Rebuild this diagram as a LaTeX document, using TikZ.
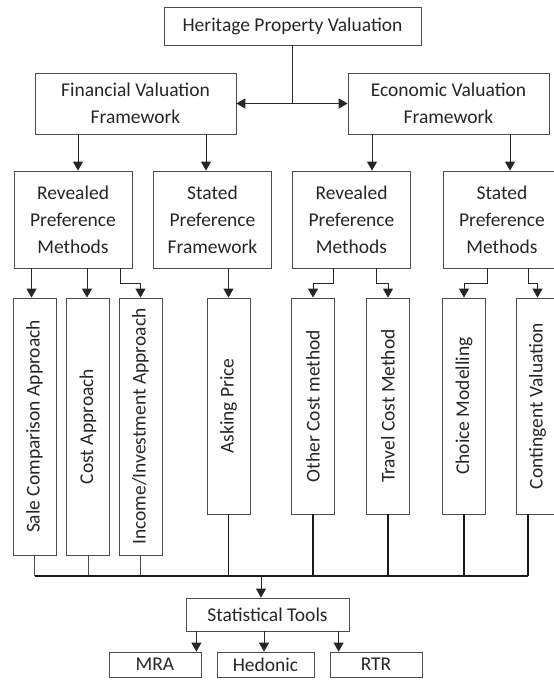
\documentclass[tikz,border=0pt]{standalone}
\usepackage{fontspec}
\setmainfont{Carlito}
\usetikzlibrary{arrows.meta}

\begin{document}
\begin{tikzpicture}[x=1pt,y=-1pt,
    box/.style={draw=black!70, line width=0.8pt, inner sep=0pt, align=center, text=black!85,
      font=\fontsize{19.5}{27}\selectfont},
    midbox/.style={box, minimum width=118pt, minimum height=97pt},
    tallbox/.style={box, minimum width=43pt, minimum height=257pt},
    shortbox/.style={box, minimum width=43pt, minimum height=216pt},
    link/.style={draw=black!85, line width=1pt, -{Triangle[width=10pt,length=9pt]}},
    feed/.style={draw=black!90, line width=1.5pt}]

  \clip (0,0) rectangle (554,686);

  % top level
  \node[box, minimum width=257pt, minimum height=38pt] (hpv) at (292.5,26) {Heritage Property Valuation};
  \node[box, minimum width=201pt, minimum height=61pt] (fin) at (135.5,103.5) {Financial Valuation\\Framework};
  \node[box, minimum width=201pt, minimum height=61pt] (eco) at (448.5,103.5) {Economic Valuation\\Framework};

  \draw[draw=black!85, line width=1.2pt] (hpv.south) -- (hpv.south |- fin.east);
  \draw[link, line width=1.2pt, {Triangle[width=10pt,length=9pt]}-{Triangle[width=10pt,length=9pt]}] (fin.east) -- (eco.west);

  % preference groups
  \node[midbox] (rpmA) at (73,219.5) {Revealed\\Preference\\Methods};
  \node[midbox] (spf) at (212.5,219.5) {Stated\\Preference\\Framework};
  \node[midbox] (rpmB) at (351.5,219.5) {Revealed\\Preference\\Methods};
  \node[midbox] (spmB) at (502,219.5) {Stated\\Preference\\Methods};

  \draw[link] ([xshift=5pt]rpmA.north |- fin.south) -- ([xshift=5pt]rpmA.north);
  \draw[link] ([xshift=-6.5pt]spf.north |- fin.south) -- ([xshift=-6.5pt]spf.north);
  \draw[link] ([xshift=20.5pt]rpmB.north |- eco.south) -- ([xshift=20.5pt]rpmB.north);
  \draw[link] ([xshift=8pt]spmB.north |- eco.south) -- ([xshift=8pt]spmB.north);

  % methods
  \node[tallbox] (sale) at (34.5,426.5) {\rotatebox{90}{Sale Comparison Approach}};
  \node[tallbox] (cost) at (88,426.5) {\rotatebox{90}{Cost Approach}};
  \node[tallbox] (income) at (140.5,426.5) {\rotatebox{90}{Income/Investment Approach}};
  \node[shortbox] (asking) at (228.5,406) {\rotatebox{90}{Asking Price}};
  \node[shortbox] (other) at (313,406) {\rotatebox{90}{Other Cost method}};
  \node[shortbox] (travel) at (388,406) {\rotatebox{90}{Travel Cost Method}};
  \node[shortbox] (choice) at (464,406) {\rotatebox{90}{Choice Modelling}};
  \node[shortbox] (cont) at (537.5,406) {\rotatebox{90}{Contingent Valuation}};

  \draw[link] ([xshift=-3pt]sale.north |- rpmA.south) -- ([xshift=-3pt]sale.north);
  \draw[link] ([xshift=-1pt]cost.north |- rpmA.south) -- ([xshift=-1pt]cost.north);
  \draw[link] ([xshift=-12pt]rpmA.south east) -- ++(0,15) -| (income.north);
  \draw[link] (asking.north |- spf.south) -- (asking.north);
  \draw[link] ([xshift=-18.5pt]rpmB.south) -- ++(0,15) -| (other.north);
  \draw[link] ([xshift=24.5pt]rpmB.south) -- ++(0,15) -| (travel.north);
  \draw[link] ([xshift=-15pt]spmB.south) -- ++(0,15) -| (choice.north);
  \draw[link] ([xshift=26pt]spmB.south) -- ++(0,15) -| (cont.north);

  % collecting bus
  \coordinate (busL) at (35,576);
  \coordinate (busR) at (528,576);
  \foreach \nm in {sale,cost,income}{
    \draw[draw=black!70, line width=0.8pt] (\nm.south) -- (\nm.south |- busL);
  }
  \foreach \nm in {asking,other,travel,choice}{
    \draw[feed] (\nm.south) -- (\nm.south |- busL);
  }
  \draw[feed] ([xshift=-9.5pt]cont.south) -- ([xshift=-9.5pt]cont.south |- busL);
  \draw[feed] (busL) -- (busR);

  % statistical tools
  \node[box, minimum width=163pt, minimum height=33pt] (stat) at (267.5,614.5) {Statistical Tools};
  \node[box, minimum width=92pt, minimum height=25pt] (mra) at (155,664.5) {MRA};
  \node[box, minimum width=97pt, minimum height=25pt] (hed) at (265.5,664.5) {Hedonic};
  \node[box, minimum width=92pt, minimum height=25pt] (rtr) at (376,664.5) {RTR};

  \draw[link] ([xshift=-6.5pt]stat.north |- busL) -- ([xshift=-6.5pt]stat.north);
  \draw[link] ([xshift=-5pt]mra.north east |- stat.south) -- ([xshift=-5pt]mra.north east);
  \draw[link] ([xshift=-1.5pt]hed.north |- stat.south) -- ([xshift=-1.5pt]hed.north);
  \draw[link] ([xshift=9pt]rtr.north west |- stat.south) -- ([xshift=9pt]rtr.north west);
\end{tikzpicture}
\end{document}
